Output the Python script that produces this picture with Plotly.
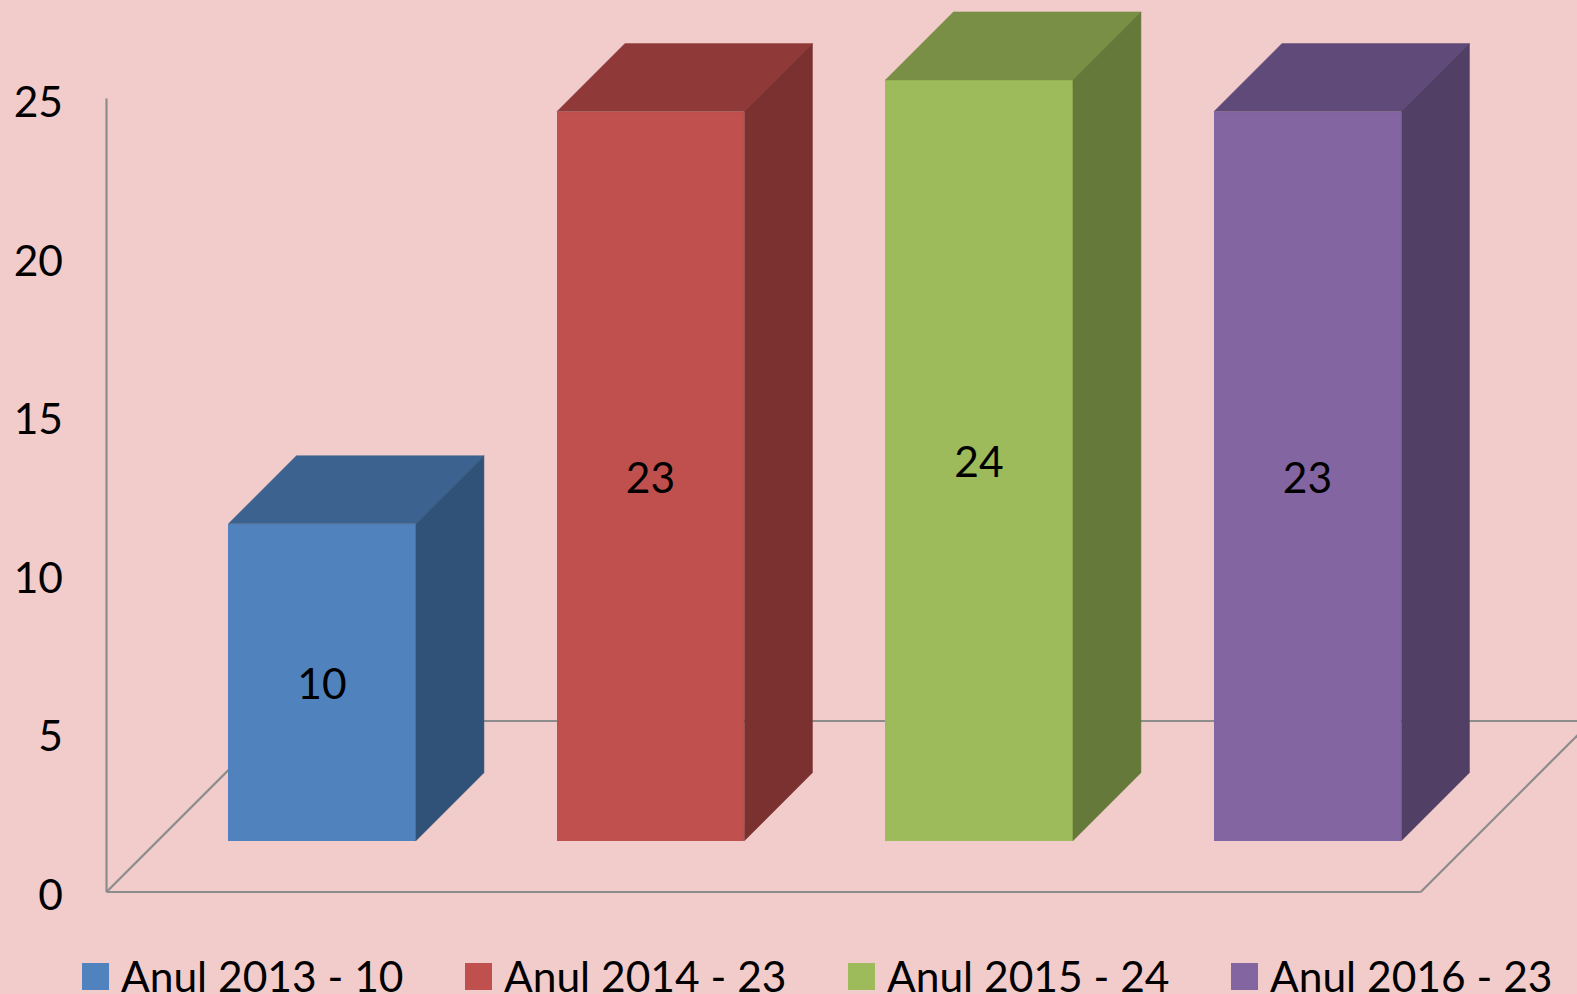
import plotly.graph_objects as go

categories = ["Anul 2013", "Anul 2014", "Anul 2015", "Anul 2016"]
values = [10, 23, 24, 23]
y_ticks = [0, 5, 10, 15, 20, 25]
front_colors = ["#5082BE", "#C0504D", "#9DBB5A", "#8365A2"]
top_colors = ["#3C638F", "#8F3A39", "#788F45", "#5F4A79"]
side_colors = ["#305278", "#7A3130", "#65793A", "#513F65"]

W, H = 1577, 994
BG = "#F2CBCB"
GRID = "#8C8C8C"
FONT = "Lato"
FS = 42.5

# geometry of the fake-3D projection
MARGIN_L = 64
PX_PER_UNIT = 31.7      # y axis scale
PX_PER_CAT = 328.5      # x axis scale
ZERO_PX = 892.0         # pixel row of y = 0
CAT0_PX = 322.2         # pixel column of first category centre


def xd(px):
    return (px - CAT0_PX) / PX_PER_CAT


def yd(px):
    return (ZERO_PX - px) / PX_PER_UNIT


BAR_W = 187.5 / PX_PER_CAT
BASE = (ZERO_PX - 840.7) / PX_PER_UNIT
DX = 68 / PX_PER_CAT
DY = 68 / PX_PER_UNIT
FLOOR_DX = 171 / PX_PER_CAT
FLOOR_DY = 171 / PX_PER_UNIT

x = list(range(len(categories)))
fig = go.Figure()

fig.add_trace(go.Bar(
    x=x, y=values, base=[BASE] * len(values), width=BAR_W,
    marker=dict(color=front_colors, line=dict(width=0)),
    text=[str(v) for v in values], textposition="inside",
    insidetextanchor="middle", textangle=0, constraintext="none",
    textfont=dict(family=FONT, size=FS, color="#000000"),
    hoverinfo="skip", showlegend=False,
))

for i, v in enumerate(values):
    l, r = i - BAR_W / 2, i + BAR_W / 2
    t, b = BASE + v, BASE
    fig.add_trace(go.Scatter(
        x=[l, r, r + DX, l + DX, l], y=[t, t, t + DY, t + DY, t],
        mode="lines", fill="toself", fillcolor=top_colors[i],
        line=dict(width=0.5, color=top_colors[i]), hoverinfo="skip", showlegend=False))
    fig.add_trace(go.Scatter(
        x=[r, r + DX, r + DX, r, r], y=[t, t + DY, b + DY, b, t],
        mode="lines", fill="toself", fillcolor=side_colors[i],
        line=dict(width=0.5, color=side_colors[i]), hoverinfo="skip", showlegend=False))

# wall and floor frame, behind the bars
x_l, x_r = xd(106.5), xd(1420.7)
frame = [
    (x_l, 25.03, x_l, 0),
    (x_l, 0, x_r, 0),
    (x_l, 0, x_l + FLOOR_DX, FLOOR_DY),
    (x_r, 0, x_r + FLOOR_DX, FLOOR_DY),
    (x_l + FLOOR_DX, FLOOR_DY, x_r + FLOOR_DX, FLOOR_DY),
]
shapes = [dict(type="line", xref="x", yref="y", x0=a, y0=b, x1=c, y1=d, layer="below",
               line=dict(color=GRID, width=2.2)) for a, b, c, d in frame]

# legend row
annotations = []
for i, name in enumerate(categories):
    sq_px = 95.5 + 383 * i
    fig.add_trace(go.Scatter(
        x=[xd(sq_px)], y=[yd(976.5)], mode="markers", cliponaxis=False,
        marker=dict(symbol="square", size=27, color=front_colors[i], line=dict(width=0)),
        hoverinfo="skip", showlegend=False))
    annotations.append(dict(
        x=xd(sq_px + 23), y=yd(975), xref="x", yref="y", xanchor="left", yanchor="middle",
        text=f"{name} - {values[i]}", showarrow=False,
        font=dict(family=FONT, size=FS, color="#000000")))

fig.update_layout(
    width=W, height=H, autosize=False,
    margin=dict(l=MARGIN_L, r=0, t=0, b=0, pad=0),
    paper_bgcolor=BG, plot_bgcolor=BG,
    shapes=shapes, annotations=annotations,
    xaxis=dict(range=[xd(MARGIN_L), xd(W)], visible=False, fixedrange=True),
    yaxis=dict(range=[yd(H), yd(0)], tickmode="array", tickvals=y_ticks,
               ticktext=[str(t) for t in y_ticks], showgrid=False, zeroline=False,
               showline=False, ticks="", automargin=False, fixedrange=True,
               ticklabelshift=3,
               tickfont=dict(family=FONT, size=FS, color="#000000")),
    showlegend=False,
    bargap=0,
)

fig.write_html("out.html", config={"displayModeBar": False},
               post_script="document.body.style.margin='0';document.documentElement.style.overflow='hidden';")
